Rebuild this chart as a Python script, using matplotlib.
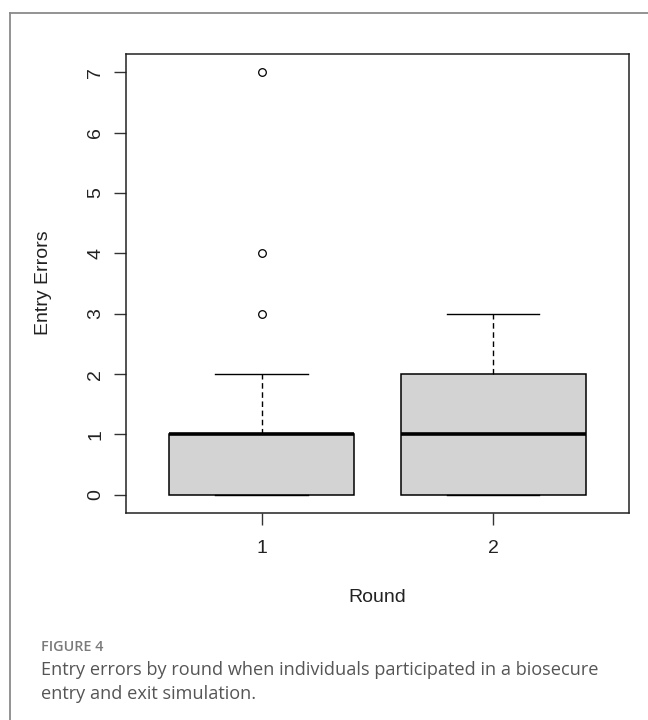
import matplotlib
matplotlib.use("Agg")
import matplotlib.pyplot as plt
from matplotlib.lines import Line2D

# ---- data ----
rounds = ["1", "2"]
q1 = [0, 0]
median = [1, 1]
q3 = [1, 2]
whisker_low = [0, 0]
whisker_high = [2, 3]
outliers = [[3, 4, 7], []]
y_ticks = [0, 1, 2, 3, 4, 5, 6, 7]

W, H = 648, 720
fig = plt.figure(figsize=(W / 100, H / 100), dpi=100)
fig.patch.set_facecolor("white")

# outer frame (open to the right and bottom, as in the cropped reference)
fig.add_artist(Line2D([10 / W, 10 / W], [0, 1 - 13 / H], transform=fig.transFigure,
                      color="#8a8a8a", lw=1.3))
fig.add_artist(Line2D([10 / W, 1], [1 - 13 / H, 1 - 13 / H], transform=fig.transFigure,
                      color="#8a8a8a", lw=1.3))

left, right, top, bottom = 126, 629, 54, 513
ax = fig.add_axes([left / W, 1 - bottom / H, (right - left) / W, (bottom - top) / H])

stats = []
for i, r in enumerate(rounds):
    stats.append(dict(label=r, q1=q1[i], med=median[i], q3=q3[i],
                      whislo=whisker_low[i], whishi=whisker_high[i], fliers=outliers[i]))

ax.bxp(stats, positions=[1, 2], widths=0.8, patch_artist=True, showfliers=True,
       boxprops=dict(facecolor="#d3d3d3", edgecolor="black", linewidth=1.1),
       medianprops=dict(color="black", linewidth=2.6, solid_capstyle="butt"),
       whiskerprops=dict(color="black", linewidth=1.0, linestyle=(0, (4, 2.6))),
       capprops=dict(color="black", linewidth=1.0),
       capwidths=0.4,
       flierprops=dict(marker="o", markersize=5.5, markerfacecolor="none",
                       markeredgecolor="black", markeredgewidth=0.9))

ax.set_xlim(0.413, 2.588)
ax.set_ylim(-0.30, 7.30)
ax.set_yticks(y_ticks)
ax.set_xticks([1, 2])
ax.set_xticklabels(rounds)

font = "Liberation Sans"
for lab in ax.get_yticklabels():
    lab.set_rotation(90)
    lab.set_va("center")
    lab.set_fontfamily(font)
    lab.set_fontsize(14)
    lab.set_color("#222222")
for lab in ax.get_xticklabels():
    lab.set_fontfamily(font)
    lab.set_fontsize(14)
    lab.set_color("#222222")

ax.tick_params(axis="both", length=8.5, width=1.0, color="#333333")
ax.tick_params(axis="y", pad=7)
ax.tick_params(axis="x", pad=11)
for s in ax.spines.values():
    s.set_linewidth(1.1)
    s.set_color("#222222")

fig.text(43 / W, 1 - 283 / H, "Entry Errors", rotation=90, ha="center", va="center",
         fontfamily=font, fontsize=14, color="#222222")
fig.text(377 / W, 1 - 598 / H, "Round", ha="center", va="center",
         fontfamily=font, fontsize=14, color="#222222")

# caption
fig.text(41 / W, 1 - 647 / H, "FIGURE 4", ha="left", va="center",
         fontfamily="Open Sans", fontsize=10.4, color="#7a7a7a", fontweight="semibold")
fig.text(41 / W, 1 - 670 / H, "Entry errors by round when individuals participated in a biosecure",
         ha="left", va="center", fontfamily="Open Sans", fontsize=13.1, color="#555555")
fig.text(41 / W, 1 - 694 / H, "entry and exit simulation.",
         ha="left", va="center", fontfamily="Open Sans", fontsize=13.1, color="#555555")

fig.savefig("out.png", dpi=100)
